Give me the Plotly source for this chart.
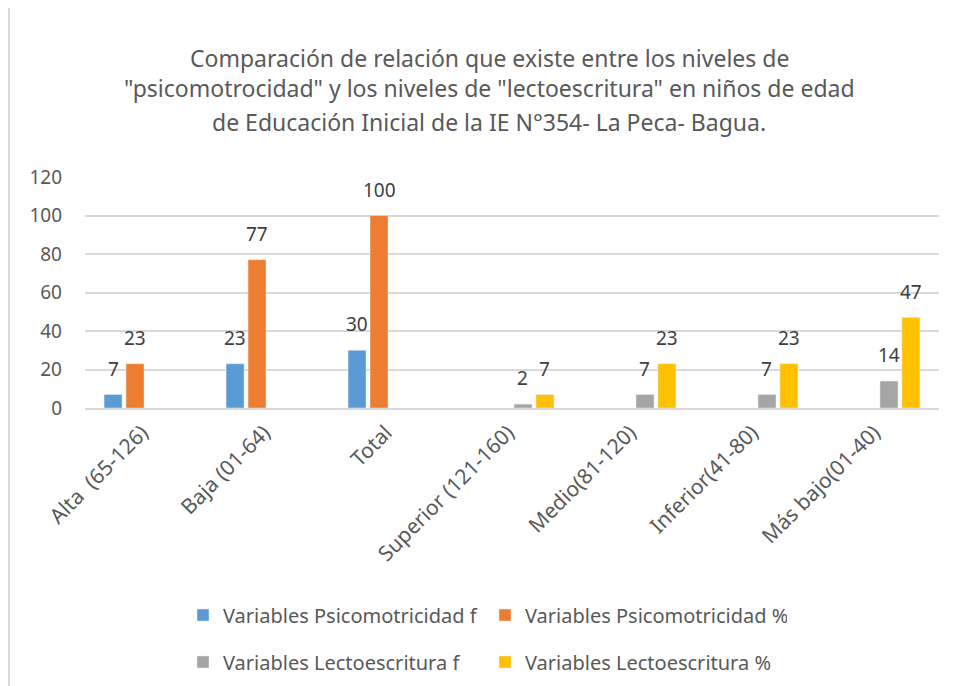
import plotly.graph_objects as go

categorias = ["Alta  (65-126)", "Baja (01-64)", "Total", "Superior (121-160)",
              "Medio(81-120)", "Inferior(41-80)", "Más bajo(01-40)"]
psico_f = [7, 23, 30, None, None, None, None]
psico_pct = [23, 77, 100, None, None, None, None]
lecto_f = [None, None, None, 2, 7, 7, 14]
lecto_pct = [None, None, None, 7, 23, 23, 47]

titulo = [
    "Comparación de relación que existe entre los niveles de",
    "\"psicomotrocidad\" y los niveles de \"lectoescritura\" en niños de edad",
    "de Educación Inicial de la IE N°354- La Peca- Bagua.",
]

FONT = "Noto Sans"
GRIS = "#595959"

# la pagina tiene 8px de margen en el body; se descuenta aqui
OFF = 8
W, H = 957 - OFF, 686 - OFF

# area de trazado en px de la imagen: x 85..939, y 177..408
L, T = 85 - OFF, 177 - OFF
R, B = W - (939 - OFF), H - (408 - OFF)
PW, PH = W - L - R, H - T - B


def px_x(v):
    return (v - OFF - L) / PW


def px_y(v):
    return (H - B - (v - OFF)) / PH


series = [
    ("Variables Psicomotricidad f", psico_f, "#5B9BD5", "legend"),
    ("Variables Psicomotricidad %", psico_pct, "#ED7D31", "legend"),
    ("Variables Lectoescritura f", lecto_f, "#A5A5A5", "legend2"),
    ("Variables Lectoescritura %", lecto_pct, "#FFC000", "legend2"),
]

fig = go.Figure()
anots = []
slot = PW / len(categorias) * (1 - 0.28) / len(series)
for k, (nombre, valores, color, leg) in enumerate(series):
    fig.add_trace(go.Bar(
        x=categorias, y=valores, name=nombre, marker_color=color,
        legend=leg,
    ))
    # etiquetas de datos, algo separadas de la barra como en Excel
    for cat, v in zip(categorias, valores):
        if v is None:
            continue
        anots.append(dict(
            text=str(v), x=cat, y=v, xref="x", yref="y",
            xshift=(k - 1.5) * slot, yshift=26, showarrow=False,
            xanchor="center", yanchor="middle",
            font=dict(family=FONT, size=19, color="#404040"),
        ))

for linea, yc in zip(titulo, [59, 89, 123]):
    anots.append(dict(
        text=linea, xref="paper", yref="paper",
        x=px_x(489), y=px_y(yc - 1),
        showarrow=False, xanchor="center", yanchor="middle",
        font=dict(family=FONT, size=23, color=GRIS),
    ))

leyenda = dict(orientation="h", xref="container", yref="container",
               x=(183 - OFF) / W, xanchor="left", yanchor="middle",
               entrywidth=257, font=dict(family=FONT, size=20, color=GRIS))

fig.update_layout(
    width=W, height=H,
    margin=dict(l=L, r=R, t=T, b=B, autoexpand=False),
    paper_bgcolor="white", plot_bgcolor="white",
    barmode="group", bargap=0.28, bargroupgap=0.18,
    font=dict(family=FONT, color=GRIS),
    annotations=anots,
    legend=dict(leyenda, y=1 - (615 - OFF) / H),
    legend2=dict(leyenda, y=1 - (662 - OFF) / H),
    shapes=[dict(type="line", xref="paper", yref="paper",
                 x0=px_x(9), x1=px_x(9), y0=px_y(0), y1=px_y(700),
                 line=dict(color="#d9d9d9", width=2))],
)
fig.update_xaxes(
    tickangle=-45, tickfont=dict(family=FONT, size=21, color=GRIS),
    showline=True, linecolor="#d9d9d9", linewidth=2, ticks="",
    ticklabelstandoff=2, ticklabelshift=-4, automargin=False,
)
fig.update_yaxes(
    range=[0, 120], dtick=20, showgrid=True, gridcolor="#d9d9d9", gridwidth=1.5,
    zeroline=False, tickfont=dict(family=FONT, size=19, color=GRIS),
    ticklabelstandoff=22, automargin=False,
)

fig.write_html("out.html")
